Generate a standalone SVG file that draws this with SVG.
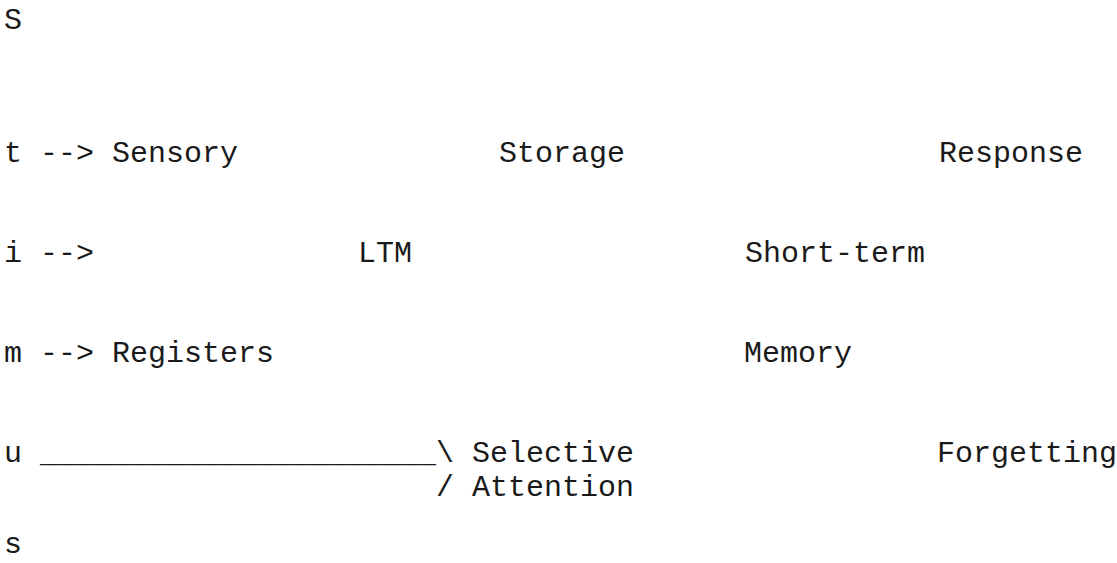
<svg xmlns="http://www.w3.org/2000/svg" width="1117" height="563" viewBox="0 0 1117 563">
<style>
text{font-family:"Liberation Mono","Courier New",monospace;font-size:30px;fill:#1a1a1a;white-space:pre}
</style>
<rect width="1117" height="563" fill="#fff"/>
<g id="margin">
<text x="4" y="29">S</text>
<text x="4" y="162">t</text>
<text x="4" y="262">i</text>
<text x="4" y="362">m</text>
<text x="4" y="462">u</text>
<text x="4" y="553">s</text>
</g>
<g id="connectors">
<text x="40" y="162">--&gt;</text>
<text x="40" y="262">--&gt;</text>
<text x="40" y="362">--&gt;</text>
<text x="40" y="462">______________________\</text>
<text x="436" y="496">/</text>
</g>
<g id="sensory-registers">
<text x="112" y="162">Sensory</text>
<text x="112" y="362">Registers</text>
</g>
<g id="storage"><text x="499" y="162">Storage</text></g>
<g id="ltm"><text x="358" y="262">LTM</text></g>
<g id="response"><text x="939" y="162">Response</text></g>
<g id="short-term-memory">
<text x="745" y="262">Short-term</text>
<text x="744" y="362">Memory</text>
</g>
<g id="selective-attention">
<text x="472" y="462">Selective</text>
<text x="472" y="496">Attention</text>
</g>
<g id="forgetting"><text x="937" y="462">Forgetting</text></g>
</svg>
